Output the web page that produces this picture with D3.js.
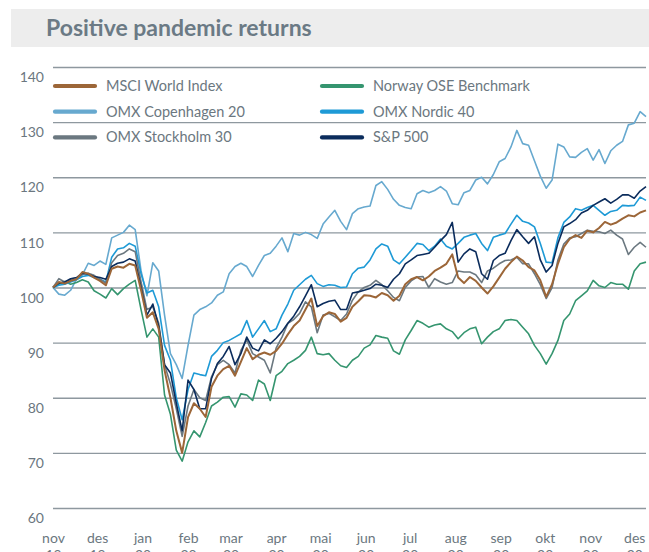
<!DOCTYPE html>
<html>
<head>
<meta charset="utf-8">
<script src="https://cdn.jsdelivr.net/npm/d3@7"></script>
<style>
  body { margin: 0; background: #fff; }
  svg { display: block; font-family: Lato, "Open Sans", sans-serif; }
</style>
</head>
<body>
<div id="chart"></div>
<script>
// month labels on the x axis (Norwegian), two lines each
const monthLabels = ["nov", "des", "jan", "feb", "mar", "apr", "mai", "jun", "jul", "aug", "sep", "okt", "nov", "des"];
const yearLabels = ["19", "19", "20", "20", "20", "20", "20", "20", "20", "20", "20", "20", "20", "20"];
const yTicks = [60, 70, 80, 90, 100, 110, 120, 130, 140];

// one sample every 4 days starting 1 Nov 2019, indexed to 100
const startDate = new Date(2019, 10, 1);
const stepDays = 4;

const msciWorld = [100, 101.0, 100.7, 101.2, 101.5, 102.8, 102.5, 101.8, 101.2, 100.4,
  103.4, 103.8, 103.6, 104.3, 104.0, 99.5, 94.5, 95.5, 92.5, 85.0,
  80.0, 74.0, 70.0, 76.5, 79.0, 78.0, 76.5, 82.0, 84.0, 85.2,
  85.8, 84.0, 86.5, 89.0, 87.0, 87.8, 88.2, 87.8, 88.5, 89.8,
  91.5, 93.0, 94.0, 96.0, 98.0, 93.0, 94.8, 95.5, 95.2, 93.8,
  94.5, 96.5, 97.5, 98.6, 98.5, 98.2, 99.0, 98.6, 97.6, 98.5,
  100.6, 101.5, 101.9, 101.3, 102.0, 103.0, 103.6, 104.3, 106.0, 101.8,
  100.8, 101.9, 101.2, 100.0, 98.9, 100.2, 101.8, 103.4, 104.6, 105.6,
  104.9, 103.7, 103.1, 101.3, 98.3, 100.6, 104.3, 107.3, 108.8, 109.5,
  109.0, 110.3, 110.0, 110.8, 111.9, 111.4, 111.8, 112.5, 113.1, 112.9,
  113.6, 114.0];

const norwayOse = [100, 100.6, 101.1, 100.6, 100.9, 101.4, 101.0, 99.4, 98.8, 98.1,
  99.8, 98.7, 99.8, 100.6, 101.3, 96.0, 91.0, 92.5, 91.0, 80.5,
  77.0, 70.5, 68.5, 72.0, 74.0, 72.9, 75.5, 78.5, 79.2, 80.1,
  80.2, 78.3, 80.7, 80.5, 79.5, 83.2, 82.5, 79.5, 84.0, 84.8,
  86.2, 86.8, 87.5, 88.6, 91.0, 88.0, 87.8, 88.0, 86.8, 85.8,
  85.5, 86.8, 87.5, 89.0, 89.6, 91.3, 91.0, 90.8, 88.5, 87.9,
  90.5, 92.2, 94.0, 93.5, 92.8, 93.2, 93.4, 92.5, 92.0, 90.7,
  91.8, 92.5, 92.8, 89.8, 91.0, 92.0, 92.5, 94.0, 94.2, 94.0,
  92.8, 91.6, 89.5, 88.0, 86.1, 88.0, 90.4, 94.0, 95.2, 97.6,
  98.5, 99.4, 101.3, 100.3, 100.0, 100.9, 100.6, 100.6, 99.7, 103.0,
  104.3, 104.6];

const omxCopenhagen = [100, 98.8, 98.6, 99.5, 101.5, 102.3, 104.4, 104.0, 104.8, 104.2,
  109.0, 109.5, 110.0, 111.3, 110.5, 103.0, 98.5, 104.5, 103.0, 95.0,
  88.0, 86.0, 83.5, 89.5, 95.0, 96.0, 96.5, 97.2, 98.6, 99.2,
  102.5, 103.8, 104.4, 103.8, 102.0, 104.0, 105.8, 106.2, 107.5, 109.0,
  106.5, 109.8, 109.5, 110.0, 109.6, 108.9, 111.5, 112.8, 114.0, 112.0,
  110.5, 113.4, 114.3, 114.6, 114.8, 118.5, 119.2, 117.8, 116.0, 114.9,
  114.5, 114.3, 117.0, 117.6, 117.2, 117.6, 118.3, 117.5, 115.2, 115.0,
  117.2, 117.6, 119.5, 120.0, 118.8, 120.5, 122.8, 123.4, 125.5, 128.5,
  126.1, 125.8, 123.0, 120.2, 118.0, 119.5, 126.0, 125.5, 123.7, 123.6,
  124.5, 125.2, 123.1, 125.0, 122.5, 124.8, 125.8, 126.5, 129.5, 129.8,
  131.9, 131.0];

const omxNordic = [100, 100.4, 100.6, 101.0, 101.4, 102.0, 102.2, 101.8, 101.5, 101.0,
  105.5, 107.0, 107.2, 108.0, 107.5, 102.5, 99.0, 99.5, 96.5, 89.5,
  86.8, 80.0, 76.0, 81.5, 84.5, 84.2, 84.0, 87.5, 88.6, 90.0,
  90.4, 91.0, 91.6, 94.0, 91.0, 92.5, 94.0, 92.0, 92.5, 95.0,
  97.0, 99.5, 100.5, 101.5, 102.2, 100.7, 100.2, 100.5, 100.4, 100.0,
  100.1, 102.5, 103.5, 103.7, 105.0, 107.0, 107.9, 107.5, 105.0, 104.3,
  105.5, 106.7, 108.0, 107.8, 106.7, 107.5, 108.8, 107.5, 107.0, 108.0,
  109.1, 109.5, 109.8, 108.0, 106.7, 109.1, 109.5, 109.8, 111.5, 113.1,
  112.0, 111.7, 111.0, 108.0, 104.6, 104.5, 109.0, 111.8, 112.8, 114.3,
  114.0, 114.5, 114.9, 114.0, 113.1, 113.8, 114.0, 114.9, 114.8, 114.9,
  116.4, 115.8];

const omxStockholm = [100, 101.6, 101.0, 101.4, 101.6, 102.4, 102.6, 102.2, 101.5, 100.8,
  104.5, 105.8, 106.2, 107.0, 106.5, 101.0, 96.0, 96.5, 93.5, 86.0,
  82.5, 78.0, 73.0, 78.5, 81.5, 80.0, 79.5, 83.8, 86.0, 86.8,
  86.0, 84.5, 88.6, 90.5, 88.0, 87.4, 86.8, 84.5, 89.0, 91.0,
  93.5, 94.2, 95.3, 97.4, 96.5, 91.8, 95.0, 95.3, 94.7, 94.0,
  95.2, 97.7, 99.2, 100.0, 100.4, 101.3, 100.5, 99.4, 98.2, 97.6,
  100.0, 101.2, 101.9, 102.0, 100.0, 101.6, 101.0, 100.6, 100.9, 103.0,
  102.8, 102.8, 102.3, 100.9, 103.0, 103.5, 104.3, 104.9, 105.0, 105.5,
  104.3, 104.3, 102.5, 100.5, 98.0, 100.0, 105.0, 107.9, 109.0, 109.2,
  109.8, 110.4, 110.2, 110.1, 109.8, 110.4, 109.5, 108.8, 106.0, 107.3,
  108.2, 107.3];

const sp500 = [100, 100.8, 101.0, 101.6, 101.8, 102.6, 102.4, 102.0, 101.8, 101.5,
  103.8, 104.4, 104.6, 105.2, 104.8, 100.0, 95.0, 97.0, 93.0, 86.0,
  84.5, 79.0, 74.0, 83.2, 81.5, 78.0, 78.0, 83.5, 86.2, 87.5,
  89.3, 86.0, 88.0, 91.0, 89.0, 88.5, 90.5, 89.8, 90.8, 92.0,
  93.5, 94.8, 96.5, 98.5, 100.5, 96.5, 97.1, 97.5, 97.7, 96.0,
  96.0, 99.0, 99.2, 99.5, 99.8, 100.6, 100.4, 100.0, 101.5, 102.5,
  104.3, 105.0, 105.8, 106.0, 106.2, 107.3, 108.5, 109.6, 111.8, 104.6,
  106.1, 107.0, 106.5, 102.5, 101.5, 104.9, 105.8, 106.2, 108.5, 110.5,
  109.2, 108.0, 109.2, 105.0, 102.8, 104.0, 108.0, 111.0, 111.6, 112.3,
  113.5, 114.0, 114.9, 115.5, 116.1, 115.3, 116.0, 116.8, 116.8, 116.2,
  117.5, 118.3];

// drawing order: first drawn is at the back
const seriesList = [
  { name: "OMX Copenhagen 20", values: omxCopenhagen, color: "#67a9cf", width: 1.6 },
  { name: "Norway OSE Benchmark", values: norwayOse, color: "#35956f", width: 1.6 },
  { name: "OMX Nordic 40", values: omxNordic, color: "#1e9ad6", width: 1.6 },
  { name: "OMX Stockholm 30", values: omxStockholm, color: "#6b7880", width: 1.6 },
  { name: "S&P 500", values: sp500, color: "#0b2c5c", width: 1.6 },
  { name: "MSCI World Index", values: msciWorld, color: "#9c6638", width: 2 }
];

// legend order, two columns
const legendOrder = ["MSCI World Index", "Norway OSE Benchmark", "OMX Copenhagen 20",
  "OMX Nordic 40", "OMX Stockholm 30", "S&P 500"];

const width = 649, height = 552;
const textColor = "#6b7780";

const svg = d3.select("#chart").append("svg")
  .attr("width", width)
  .attr("height", height);

// title band
svg.append("rect")
  .attr("x", 11).attr("y", 9)
  .attr("width", width - 11).attr("height", 38)
  .attr("fill", "#ededed");
svg.append("text")
  .attr("x", 46).attr("y", 36)
  .attr("font-size", 23)
  .attr("font-weight", 700)
  .attr("fill", "#6b7a85")
  .text("Positive pandemic returns");

const x = d3.scaleTime()
  .domain([startDate, d3.timeDay.offset(startDate, stepDays * (msciWorld.length - 1))])
  .range([53, 646]);

const y = d3.scaleLinear()
  .domain([60, 140])
  .range([508, 67]);

// horizontal gridlines + y labels
const yAxis = svg.append("g")
  .attr("transform", "translate(53,0)")
  .call(d3.axisLeft(y).tickValues(yTicks).tickSize(-(646 - 53)).tickPadding(9));
yAxis.select(".domain").remove();
yAxis.selectAll(".tick line")
  .attr("stroke", "#8e989f")
  .attr("stroke-width", 1.3);
yAxis.selectAll(".tick text")
  .attr("fill", textColor)
  .attr("font-size", 14)
  .attr("font-family", "Lato, sans-serif")
  .attr("dy", "1.05em");

// x axis labels at month starts
const monthTicks = d3.timeMonth.range(startDate, new Date(2020, 11, 2));
const xAxis = svg.append("g")
  .attr("transform", "translate(0,508)")
  .call(d3.axisBottom(x).tickValues(monthTicks).tickSize(0).tickFormat(""));
xAxis.select(".domain").remove();
xAxis.selectAll(".tick").each(function (d, i) {
  const t = d3.select(this).append("text")
    .attr("fill", textColor)
    .attr("font-size", 14)
    .attr("font-family", "Lato, sans-serif")
    .attr("text-anchor", "middle");
  t.append("tspan").attr("x", 0).attr("y", 35).text(monthLabels[i]);
  t.append("tspan").attr("x", 0).attr("y", 52).text(yearLabels[i]);
});

// lines
const line = d3.line()
  .x((d, i) => x(d3.timeDay.offset(startDate, stepDays * i)))
  .y(d => y(d));

svg.append("g")
  .selectAll("path")
  .data(seriesList)
  .join("path")
  .attr("fill", "none")
  .attr("stroke", d => d.color)
  .attr("stroke-width", d => d.width)
  .attr("stroke-linejoin", "round")
  .attr("d", d => line(d.values));

// legend
const legend = svg.append("g");
legendOrder.forEach((name, i) => {
  const s = seriesList.find(e => e.name === name);
  const col = i % 2, row = Math.floor(i / 2);
  const gx = col === 0 ? 55 : 322;
  const gy = 86 + row * 25.7;
  legend.append("line")
    .attr("x1", gx).attr("x2", gx + 40)
    .attr("y1", gy).attr("y2", gy)
    .attr("stroke", s.color)
    .attr("stroke-width", 4.2)
    .attr("stroke-linecap", "round");
  legend.append("text")
    .attr("x", gx + 51).attr("y", gy)
    .attr("dy", "0.35em")
    .attr("font-size", 14.5)
    .attr("fill", textColor)
    .text(name);
});
</script>
</body>
</html>
